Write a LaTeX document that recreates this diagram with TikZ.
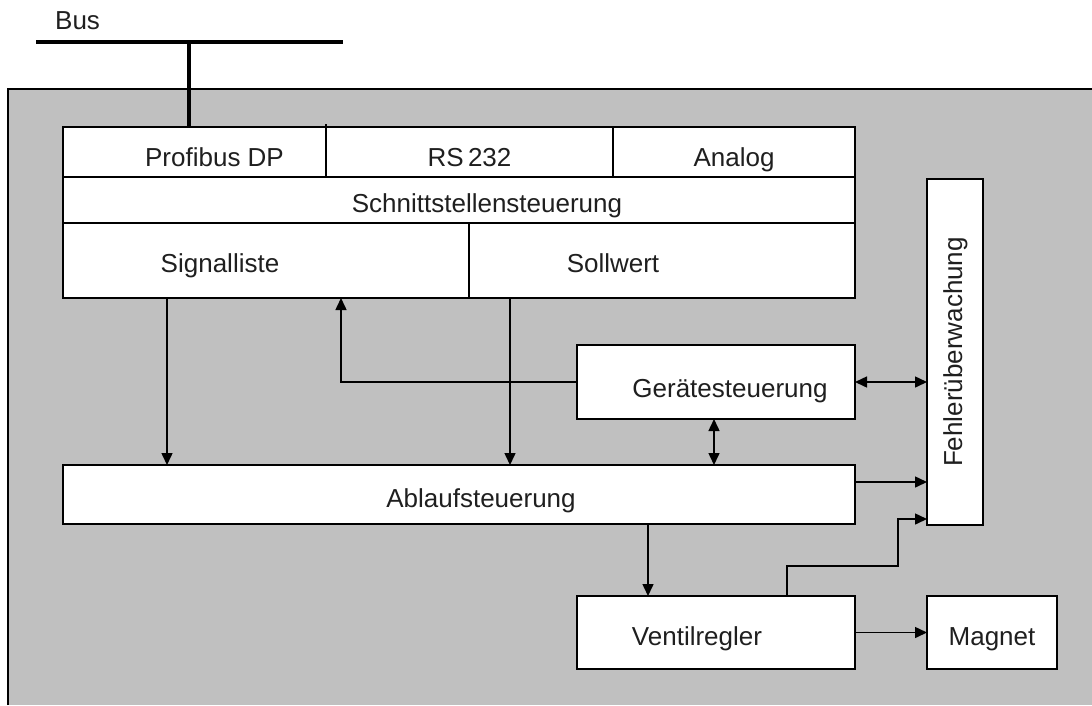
\documentclass[tikz,border=0pt]{standalone}
\usepackage{fontspec}
\setmainfont{Liberation Sans}
\usepackage{tikz}
\usetikzlibrary{arrows.meta,positioning,calc}

\definecolor{panelgray}{HTML}{C0C0C0}

\begin{document}
\begin{tikzpicture}[x=1pt,y=-1pt,
		every node/.style={font=\fontsize{26}{31}\selectfont, text=black!88},
		every label/.style={text height=19pt, text depth=5pt, inner sep=0pt},
		box/.style={draw, rectangle, fill=white, line width=1.6pt, inner sep=0pt, outer sep=0pt, anchor=north west},
		conn/.style={line width=1.5pt, -{Triangle[length=12pt,width=11pt]}},
		biconn/.style={line width=1.5pt, {Triangle[length=12pt,width=11pt]}-{Triangle[length=12pt,width=11pt]}}]
		\useasboundingbox (0,0) rectangle (1092,705);
		
		% Draw the grey panel
		\fill[panelgray] (8,89) rectangle (1092,705);
		\draw[line width=2pt] (8,705) -- (8,89) -- (1092,89);
		
		% Draw the bus
		\node (bus) [anchor=base west, inner sep=0pt] at (55,29) {Bus};
		\coordinate (busL) at (36,42);
		\coordinate (busR) at (343,42);
		\coordinate (bustap) at (189,42);
		\draw[line width=3.5pt] (busL) -- (busR);
		
		% Draw the interface row
		\node (profibus) [box, minimum width=263pt, minimum height=50pt, label={[xshift=20pt,yshift=-7pt]center:Profibus DP}] at (63,127) {};
		\node (rs) [box, minimum width=287pt, minimum height=50pt, right=0pt of profibus.north east, anchor=north west, label={[yshift=-7pt]center:RS\,232}] {};
		\node (analog) [box, minimum width=242pt, minimum height=50pt, right=0pt of rs.north east, anchor=north west, label={[yshift=-7pt]center:Analog}] {};
		\draw[line width=4.5pt] (bustap) -- (bustap |- profibus.north);
		\draw[line width=2.2pt] ($(rs.north west)+(0,-3)$) -- (rs.south west);
		
		% Draw the interface control below
		\node (schnitt) [box, minimum width=792pt, minimum height=46pt, anchor=north west, label={[xshift=28pt,yshift=-5pt]center:Schnittstellensteuerung}] at (profibus.south west) {};
		
		% Draw the signal list and the set value
		\node (signal) [box, minimum width=406pt, minimum height=75pt, anchor=north west, label={[xshift=-46pt,yshift=-4.5pt]center:Signalliste}] at (schnitt.south west) {};
		\node (sollwert) [box, minimum width=386pt, minimum height=75pt, right=0pt of signal.north east, anchor=north west, label={[xshift=-49pt,yshift=-4.5pt]center:Sollwert}] {};
		
		% Draw the device control, the sequence control and the valve controller
		\node (geraet) [box, minimum width=278pt, minimum height=74pt, label={[xshift=14pt,yshift=-8pt]center:Gerätesteuerung}] at (577,345) {};
		\node (ablauf) [box, minimum width=792pt, minimum height=59pt, label={[xshift=22pt,yshift=-5.5pt]center:Ablaufsteuerung}] at (63,465) {};
		\node (ventil) [box, minimum width=278pt, minimum height=73pt, label={[xshift=-19pt,yshift=-5.5pt]center:Ventilregler}] at (577,596) {};
		
		% Draw the error monitor and the magnet
		\node (fehler) [box, minimum width=56pt, minimum height=346pt, label={[rotate=90]center:Fehlerüberwachung}] at (927,179) {};
		\node (magnet) [box, minimum width=130pt, minimum height=73pt, label={[yshift=-5.5pt]center:Magnet}] at (927,596) {};
		
		% Connect the blocks with arrows
		\coordinate (sigout) at ($(signal.south west)+(104,0)$);
		\coordinate (sigin) at ($(signal.south west)+(278,0)$);
		\coordinate (sollout) at ($(sollwert.south west)+(41,0)$);
		\coordinate (gerdown) at ($(geraet.south)+(-2,0)$);
		\coordinate (ablout) at ($(ablauf.north east)+(0,17)$);
		\coordinate (ventin) at ($(ventil.north west)+(71,0)$);
		\coordinate (ventout) at ($(ventil.north west)+(210,0)$);
		\coordinate (fehlin) at ($(fehler.south west)+(0,-6)$);
		\coordinate (bend) at (898,566);
		\draw[conn] (sigout) -- (sigout |- ablauf.north);
		\draw[conn] (geraet.west) -| (sigin);
		\draw[conn] (sollout) -- (sollout |- ablauf.north);
		\draw[biconn] (gerdown) -- (gerdown |- ablauf.north);
		\draw[biconn] (geraet.east) -- (geraet.east -| fehler.west);
		\draw[conn] (ablout) -- (ablout -| fehler.west);
		\draw[conn] (ventin |- ablauf.south) -- (ventin);
		\draw[conn] (ventout) |- (bend) |- (fehlin);
		\draw[conn] (ventil.east) -- (magnet.west);
	\end{tikzpicture}
\end{document}
